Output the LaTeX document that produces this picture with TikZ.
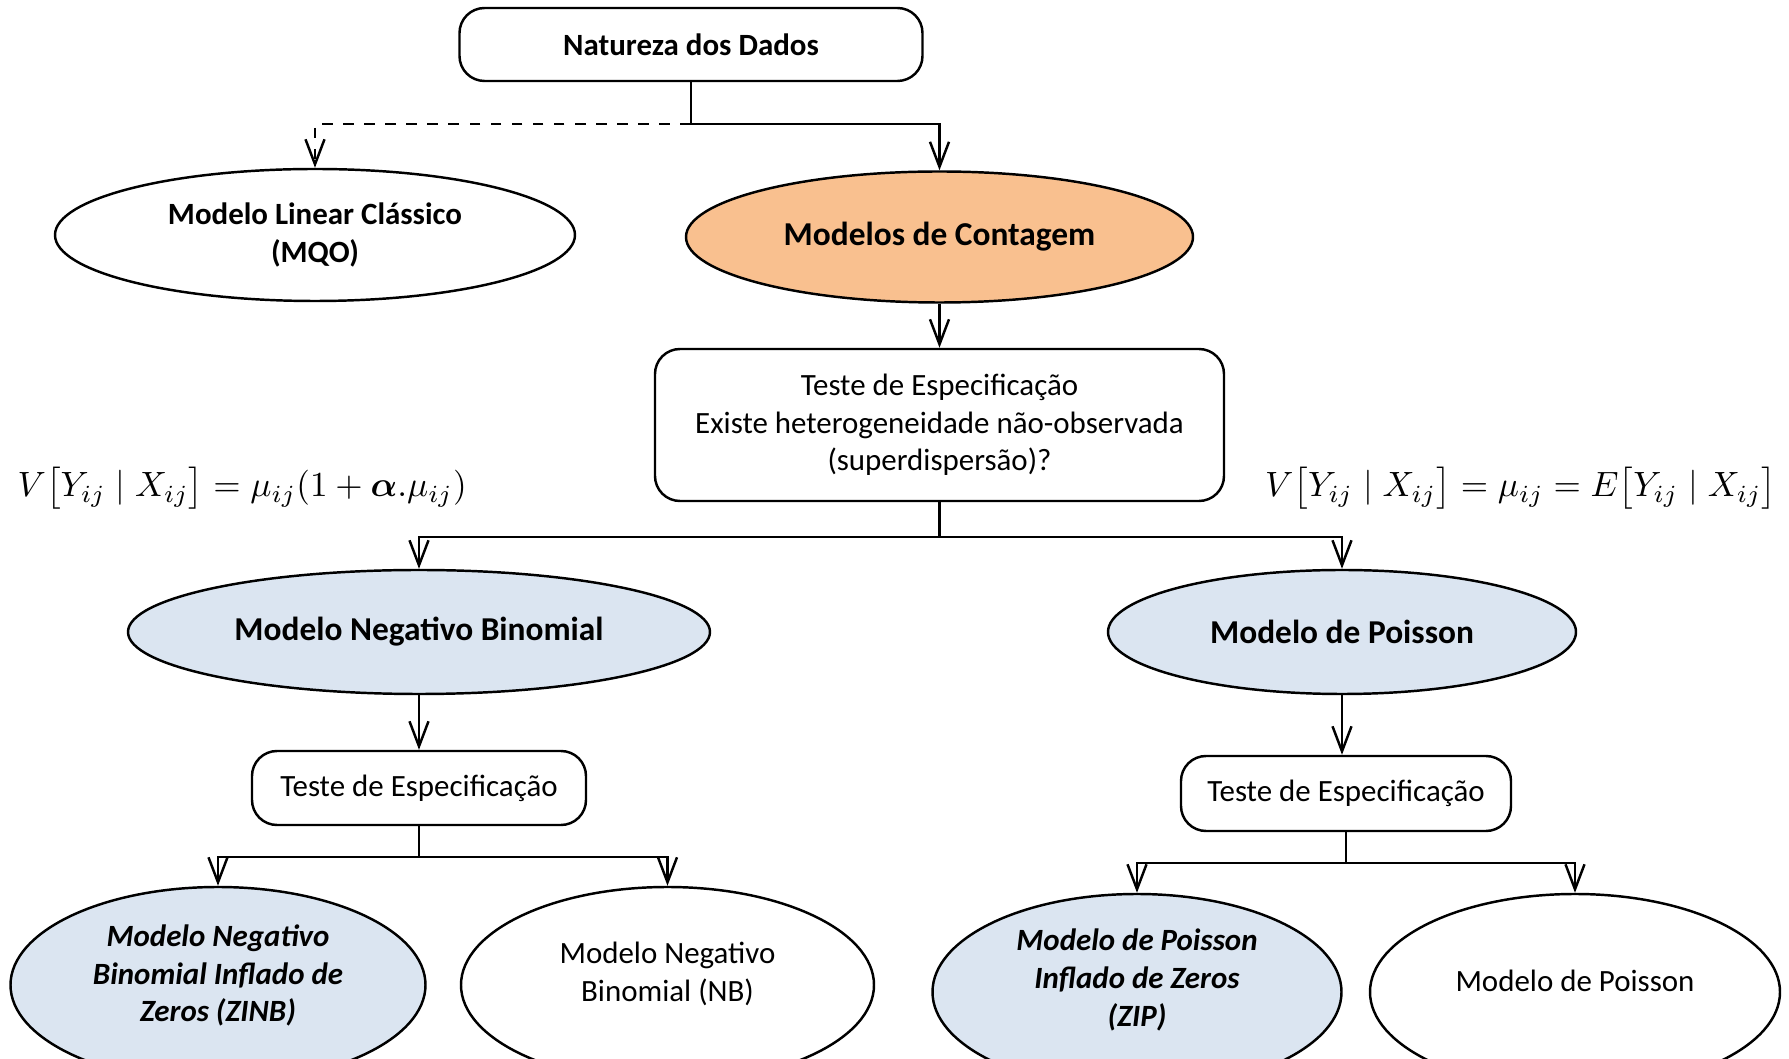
\documentclass[tikz,border=0pt]{standalone}
\usepackage{fontspec}
\setmainfont{Carlito}
\usepackage{amsmath}
\usetikzlibrary{shapes.geometric,arrows.meta}
\definecolor{laranja}{RGB}{249,192,143}
\definecolor{azulclaro}{RGB}{219,229,241}
\tikzset{
  caixa/.style = {draw, rounded corners=2.5mm, line width=0.7pt, align=center, inner sep=0pt},
  elipse/.style = {draw, ellipse, line width=0.7pt, align=center, inner sep=0pt},
  seta/.style = {line width=0.7pt, -{Straight Barb[length=2.5mm,width=1.9mm]}},
  grande/.style = {font=\fontsize{9.5}{11.5}\selectfont},
  formula/.style = {font=\fontsize{10.3}{12.5}\selectfont, inner sep=0pt},
}
\begin{document}
\begin{tikzpicture}[font=\fontsize{8.8}{10.7}\selectfont]
\useasboundingbox (0,0) rectangle (17.89,10.59);
\clip (0,0) rectangle (17.89,10.59);
\node[caixa, minimum width=4.63cm, minimum height=0.73cm] (natureza) at (6.91,10.145) {\textbf{Natureza dos Dados}};
\node[elipse, minimum width=5.20cm, minimum height=1.32cm] (linear) at (3.15,8.24) {\textbf{Modelo Linear Clássico}\\\textbf{(MQO)}};
\node[elipse, grande, fill=laranja, minimum width=5.07cm, minimum height=1.31cm] (contagem) at (9.395,8.22) {\textbf{Modelos de Contagem}};
\node[caixa, minimum width=5.69cm, minimum height=1.52cm] (teste) at (9.395,6.34) {Teste de Especificação\\Existe heterogeneidade não-observada\\(superdispersão)?};
\node[formula, anchor=west] (varnb) at (0.17,5.71) {$V\big[Y_{ij}\mid X_{ij}\big]=\mu_{ij}(1+\boldsymbol{\alpha}.\mu_{ij})$};
\node[formula, anchor=east] (varp) at (17.77,5.71) {$V\big[Y_{ij}\mid X_{ij}\big]=\mu_{ij}=E\big[Y_{ij}\mid X_{ij}\big]$};
\node[elipse, grande, fill=azulclaro, minimum width=5.82cm, minimum height=1.24cm] (negbin) at (4.19,4.27) {\textbf{Modelo Negativo Binomial}};
\node[elipse, grande, fill=azulclaro, minimum width=4.68cm, minimum height=1.24cm] (poisson) at (13.42,4.27) {\textbf{Modelo de Poisson}};
\node[caixa, minimum width=3.34cm, minimum height=0.74cm] (testenb) at (4.19,2.71) {Teste de Especificação};
\node[caixa, minimum width=3.30cm, minimum height=0.75cm] (testep) at (13.46,2.655) {Teste de Especificação};
% ultima linha, cortada pela margem de baixo
\node[elipse, fill=azulclaro, minimum width=4.15cm, minimum height=1.96cm] (zinb) at (2.18,0.74) {};
\node[elipse, minimum width=4.13cm, minimum height=1.96cm] (nb) at (6.675,0.74) {};
\node[elipse, fill=azulclaro, minimum width=4.09cm, minimum height=1.96cm] (zip) at (11.37,0.67) {};
\node[elipse, minimum width=4.10cm, minimum height=1.96cm] (poismod) at (15.75,0.67) {};
\node[align=center] (zinbtexto) at (2.18,0.835) {\textbf{\textit{Modelo Negativo}}\\\textbf{\textit{Binomial Inflado de}}\\\textbf{\textit{Zeros (ZINB)}}};
\node[align=center] (nbtexto) at (6.675,0.85) {Modelo Negativo\\Binomial (NB)};
\node[align=center] (ziptexto) at (11.37,0.79) {\textbf{\textit{Modelo de Poisson}}\\\textbf{\textit{Inflado de Zeros}}\\\textbf{\textit{(ZIP)}}};
\node (poistexto) at (15.75,0.78) {Modelo de Poisson};
% conectores
\draw[seta] (natureza.south) -- ++(0,-0.42) -| (contagem.north);
\draw[seta, dashed] (natureza.south) ++(0,-0.42) -| (linear.north);
\draw[seta] (contagem.south) -- (teste.north);
\draw[seta] (teste.south) -- ++(0,-0.35) -| (negbin.north);
\draw[seta] (teste.south) -- ++(0,-0.35) -| (poisson.north);
\draw[seta] (negbin.south) -- (testenb.north);
\draw[seta] (poisson.south) -- (poisson.south |- testep.north);
\draw[seta] (testenb.south) -- ++(0,-0.31) -| (zinb.north);
\draw[seta] (testenb.south) -- ++(0,-0.31) -| (nb.north);
\draw[seta] (testep.south) -- ++(0,-0.31) -| (zip.north);
\draw[seta] (testep.south) -- ++(0,-0.31) -| (poismod.north);
\end{tikzpicture}
\end{document}
